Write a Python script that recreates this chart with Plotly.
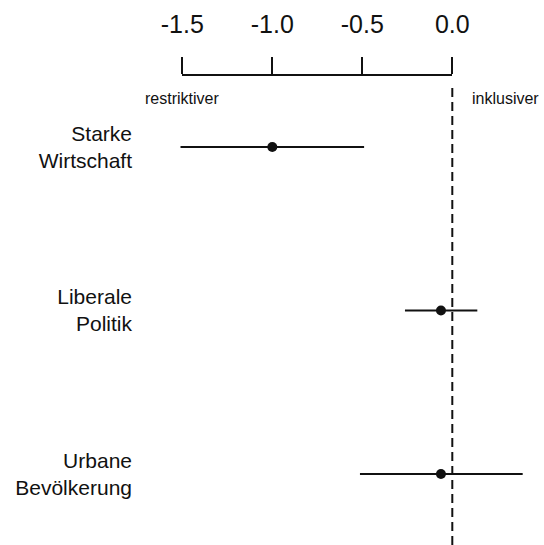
"""
Forest plot: effects on a restrictive / inclusive scale
"""

import plotly.graph_objects as go

# data
categories = ["Starke<br>Wirtschaft", "Liberale<br>Politik", "Urbane<br>Bevölkerung"]
estimates = [-1.0, -0.063, -0.063]
ci_low = [-1.51, -0.263, -0.513]
ci_high = [-0.49, 0.139, 0.391]
tick_vals = [-1.5, -1.0, -0.5, 0.0]
tick_text = ["-1.5", "-1.0", "-0.5", "0.0"]

W, H = 544, 545
LEFT, TOP = 140, 75
PX_PER_UNIT = 180.0
ZERO_PX = 452.3
FONT = "Liberation Sans, Arial, sans-serif"
INK = "#111111"

# pixel -> data helpers so the ruler axis and the data axis share one scale
def to_data(px):
    return (px - ZERO_PX) / PX_PER_UNIT

def to_paper_x(px):
    return (px - LEFT) / (W - LEFT)

plus = [h - e for h, e in zip(ci_high, estimates)]
minus = [e - l for e, l in zip(estimates, ci_low)]

fig = go.Figure()

# invisible trace that carries the top "ruler" axis
fig.add_trace(go.Scatter(
    x=tick_vals,
    y=[categories[0]] * len(tick_vals),
    xaxis='x2',
    mode='markers',
    marker=dict(opacity=0),
    showlegend=False,
    hoverinfo='skip'
))

# estimates with confidence intervals
fig.add_trace(go.Scatter(
    x=estimates,
    y=categories,
    mode='markers',
    marker=dict(size=10, color=INK),
    error_x=dict(type='data', symmetric=False, array=plus, arrayminus=minus,
                 color=INK, thickness=2, width=0),
    showlegend=False,
    hoverinfo='skip'
))

# zero reference line
fig.add_shape(
    type='line', xref='x', yref='paper',
    x0=0, x1=0, y0=0, y1=1 - 8 / (H - TOP),
    line=dict(color=INK, width=2, dash='9px,5px')
)

fig.update_layout(
    width=W,
    height=H,
    paper_bgcolor='white',
    plot_bgcolor='rgba(0,0,0,0)',
    font=dict(family=FONT, color=INK),
    margin=dict(l=LEFT, r=0, t=TOP, b=0, pad=0, autoexpand=False),
    xaxis=dict(
        range=[to_data(LEFT), to_data(W)],
        visible=False,
        automargin=False,
        fixedrange=True
    ),
    xaxis2=dict(
        domain=[to_paper_x(ZERO_PX - 1.5 * PX_PER_UNIT), to_paper_x(ZERO_PX)],
        range=[-1.5, 0.0],
        anchor='free',
        position=1,
        side='top',
        showline=True,
        linecolor=INK,
        linewidth=2,
        ticks='outside',
        ticklen=17,
        tickwidth=2,
        tickcolor=INK,
        tickvals=tick_vals,
        ticktext=tick_text,
        tickfont=dict(size=25, color=INK),
        ticklabelstandoff=14,
        showgrid=False,
        zeroline=False,
        automargin=False,
        fixedrange=True
    ),
    yaxis=dict(
        type='category',
        range=[(H - 147) / 163.5, (TOP - 147) / 163.5],
        showgrid=False,
        zeroline=False,
        showline=False,
        ticks='',
        tickfont=dict(size=21, color=INK),
        ticklabelstandoff=7,
        automargin=False,
        fixedrange=True
    ),
    annotations=[
        dict(text='restriktiver', xref='x2', x=-1.5, yref='paper',
             y=1 - (99 - TOP) / (H - TOP), xanchor='center', yanchor='middle',
             showarrow=False, font=dict(size=16, color=INK)),
        dict(text='inklusiver', xref='paper', x=to_paper_x(470), yref='paper',
             y=1 - (99 - TOP) / (H - TOP), xanchor='left', yanchor='middle',
             showarrow=False, font=dict(size=16, color=INK))
    ]
)

# drop the browser's default body margin so the figure sits at the page corner
fig.write_html(
    "out.html",
    config={'displayModeBar': False},
    post_script="document.body.style.margin = '0';"
)
